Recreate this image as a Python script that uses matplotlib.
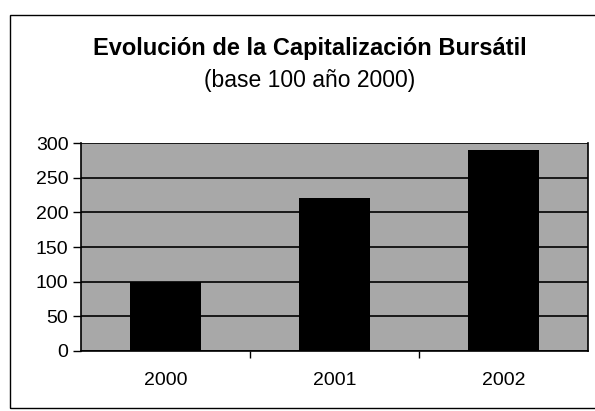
import matplotlib
matplotlib.use("Agg")
import matplotlib.pyplot as plt
from matplotlib.patches import Rectangle

years = ["2000", "2001", "2002"]
values = [100, 220, 290]
y_ticks = [0, 50, 100, 150, 200, 250, 300]

plt.rcParams["font.family"] = ["Liberation Sans", "DejaVu Sans"]

fig = plt.figure(figsize=(5.95, 4.11), dpi=100, facecolor="white")
ax = fig.add_axes([0.136, 0.146, 0.852, 0.506])
ax.set_facecolor("#a8a8a8")

x = list(range(len(years)))
ax.bar(x, values, width=0.42, color="black", zorder=3)

ax.set_xlim(-0.5, len(years) - 0.5)
ax.set_ylim(0, 300)
ax.set_yticks(y_ticks)
ax.set_yticklabels([str(v) for v in y_ticks], fontsize=14)
ax.set_xticks(x)
ax.set_xticklabels(years, fontsize=14)
ax.tick_params(axis="x", length=0, pad=15)
ax.set_xticks([0.5, 1.5], minor=True)
ax.tick_params(axis="x", which="minor", length=5, direction="out", width=1)
ax.tick_params(axis="y", length=6, direction="out", width=1, pad=3)

ax.yaxis.grid(True, color="black", linewidth=1.2, zorder=1)
ax.set_axisbelow(True)
for side in ["left", "bottom", "right"]:
    ax.spines[side].set_linewidth(1.2)
ax.spines["top"].set_visible(False)

fig.text(0.52, 0.883, "Evolución de la Capitalización Bursátil",
         ha="center", va="center", fontsize=17, fontweight="bold")
fig.text(0.52, 0.805, "(base 100 año 2000)", ha="center", va="center", fontsize=16.5)

# outer chart border
fig.patches.append(Rectangle((0.017, 0.008), 0.99, 0.955, transform=fig.transFigure,
                             fill=False, edgecolor="black", linewidth=1.0))

fig.savefig("out.png", dpi=100)
